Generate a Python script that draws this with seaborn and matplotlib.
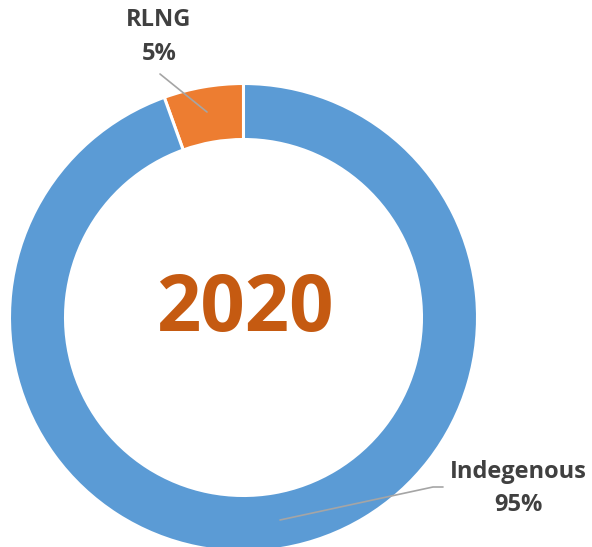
import matplotlib
matplotlib.use("Agg")
import matplotlib.pyplot as plt
import seaborn as sns

sns.set_theme(style="white")
plt.rcParams['font.family'] = ['Open Sans', 'DejaVu Sans']

categories = ["RLNG", "Indegenous"]
shares = [5.5, 94.5]
pct_labels = ["5%", "95%"]
year = "2020"

colors = ["#ED7D31", "#5B9BD5"]

W, H = 592, 547
fig = plt.figure(figsize=(W / 100, H / 100), dpi=100)
ax = fig.add_axes([0, 0, 1, 1])
ax.set_xlim(0, W)
ax.set_ylim(0, H)
ax.set_aspect('equal')
ax.axis('off')

cx, cy, r = 243.5, H - 317.5, 234
wedges, _ = ax.pie(shares, colors=colors, startangle=90, counterclock=True,
                   center=(cx, cy), radius=r,
                   wedgeprops=dict(width=56, edgecolor='white', linewidth=2.2))
ax.set_xlim(0, W)
ax.set_ylim(0, H)

ax.text(cx + 1, H - 311, year, ha='center', va='center', fontsize=56,
        fontweight='bold', color='#C55A11')

lc = '#A5A5A5'
tc = '#404040'
# RLNG label
ax.plot([160, 207], [H - 74, H - 112], color=lc, lw=1.2)
ax.text(159, H - 20, categories[0], ha='center', va='center', fontsize=17,
        fontweight='bold', color=tc)
ax.text(159, H - 54, pct_labels[0], ha='center', va='center', fontsize=17,
        fontweight='bold', color=tc)
# Indegenous label
ax.plot([280, 433, 443], [H - 520, H - 487, H - 487], color=lc, lw=1.2)
ax.text(518, H - 472, categories[1], ha='center', va='center', fontsize=17,
        fontweight='bold', color=tc)
ax.text(518, H - 505, pct_labels[1], ha='center', va='center', fontsize=17,
        fontweight='bold', color=tc)

fig.savefig("out.png", dpi=100)
